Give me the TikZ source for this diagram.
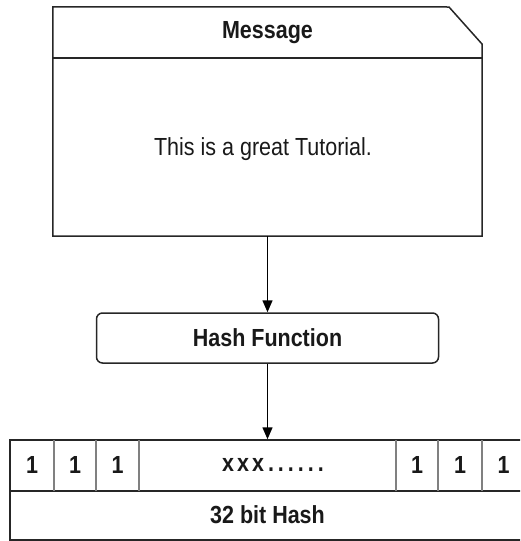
\documentclass[tikz,border=0pt]{standalone}
\usepackage{fontspec}
\setmainfont{Liberation Sans}
\usetikzlibrary{arrows.meta}
\newcommand{\tallxt}[1]{\scalebox{1}[1.15]{#1}}
\begin{document}
\begin{tikzpicture}[x=1pt,y=-1pt,
  lbl/.style={font=\fontsize{21.5}{25}\selectfont, text=black!90},
  blbl/.style={font=\fontsize{21.5}{25}\selectfont\bfseries, text=black!90},
  outer/.style={draw=black!85, line width=1.5pt},
  inner/.style={draw=black!50, line width=1.2pt},
  conn/.style={draw=black, line width=1.5pt, -{Triangle[length=12pt,width=10pt]}}]
\clip (0,0) rectangle (520,541);
% Message box
\node[minimum width=429pt, minimum height=229pt, inner sep=0pt] (msg) at (267.5,121.5) {};
\draw[outer] (msg.north west) -- (449,7) -- (482,44) -- (msg.south east) -- (msg.south west) -- cycle;
\draw[outer] (53,58) -- (482,58);
\node[blbl] (msgtitle) at (267.5,33) {\tallxt{Message}};
\node[lbl] (msgtext) at (263,149) {\tallxt{This is a great Tutorial.}};
% Hash function
\node[outer, rounded corners=6pt, minimum width=342pt, minimum height=50pt, inner sep=0pt, blbl] (hf) at (267.5,338) {\tallxt{Hash Function}};
% Hash output
\node[outer, minimum width=515pt, minimum height=100pt, inner sep=0pt] (hout) at (267.5,490) {};
\draw[outer] (10,491) -- (525,491);
\foreach \xx in {54,96,139,396,438,482} \draw[inner] (\xx,440) -- (\xx,491);
\node[blbl] (b1) at (32,465) {\tallxt{1}};
\node[blbl] (b2) at (75,465) {\tallxt{1}};
\node[blbl] (b3) at (117.5,465) {\tallxt{1}};
\node[blbl] (bmid) at (273,465) {\tallxt{x\kern3pt x\kern3pt x\kern4pt.\kern4pt.\kern4pt.\kern4pt.\kern4pt.\kern4pt.}};
\node[blbl] (b4) at (417,465) {\tallxt{1}};
\node[blbl] (b5) at (460,465) {\tallxt{1}};
\node[blbl] (b6) at (503.5,465) {\tallxt{1}};
\node[blbl] (hashlbl) at (267.5,515) {\tallxt{32 bit Hash}};
% connectors
\draw[conn] (msg.south) -- (hf.north);
\draw[conn] (hf.south) -- (hout.north);
\end{tikzpicture}
\end{document}
